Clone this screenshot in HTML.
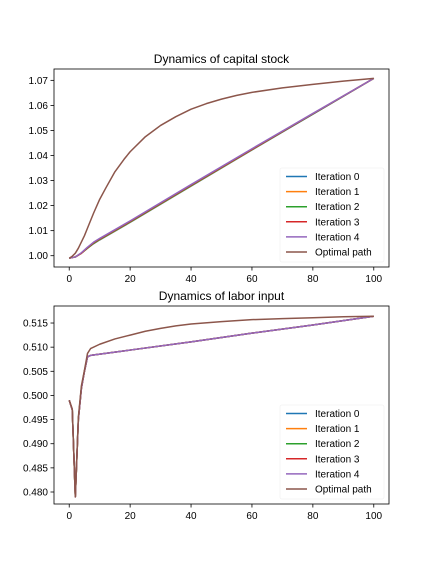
<!DOCTYPE html>
<html><head><meta charset="utf-8"><style>
html,body{margin:0;padding:0;background:#fff;}
svg{display:block;font-family:"Liberation Sans","DejaVu Sans",sans-serif;}
</style></head><body>
<svg id="fig" width="432" height="576" viewBox="0 0 432 576"></svg>
<script>
// ---- data ----
const seriesNames = ["Iteration 0","Iteration 1","Iteration 2","Iteration 3","Iteration 4","Optimal path"];
const colors = ["#1f77b4","#ff7f0e","#2ca02c","#d62728","#9467bd","#8c564b"];
const xTicks = [0,20,40,60,80,100];
const capTicks = [1.00,1.01,1.02,1.03,1.04,1.05,1.06,1.07];
const capTickLabels = ["1.00","1.01","1.02","1.03","1.04","1.05","1.06","1.07"];
const labTicks = [0.480,0.485,0.490,0.495,0.500,0.505,0.510,0.515];
const labTickLabels = ["0.480","0.485","0.490","0.495","0.500","0.505","0.510","0.515"];
const capIterX = [0,2,4,6,8,10,20,40,60,80,100];
const capIter0 = [0.999,0.9995,1.001,1.003,1.0048,1.0063,1.0133,1.0278,1.0422,1.0565,1.0708];
const capIter1 = [0.999,0.9995,1.001,1.003,1.0049,1.0064,1.0134,1.0279,1.0423,1.0566,1.0708];
const capIter2 = [0.999,0.9995,1.001,1.003,1.0050,1.0065,1.0135,1.0280,1.0424,1.0566,1.0708];
const capIter3 = [0.999,0.9995,1.001,1.0032,1.0052,1.0067,1.0137,1.0282,1.0425,1.0567,1.0708];
const capIter4 = [0.999,0.9995,1.0012,1.0034,1.0054,1.0069,1.0139,1.0284,1.0427,1.0568,1.0708];
const capOptX = [0,1,2,3,4,5,6,8,10,12,15,18,20,25,30,35,40,45,50,55,60,70,80,90,100];
const capOpt = [0.999,0.9998,1.001,1.003,1.0055,1.008,1.011,1.017,1.0225,1.027,1.0335,1.0385,1.0415,1.0475,1.052,1.0555,1.0585,1.0607,1.0625,1.064,1.0652,1.067,1.0684,1.0697,1.0708];
const labIterX = [0,1,2,3,4,5,6,7,20,40,60,80,100];
const labIter = [0.499,0.497,0.479,0.495,0.5015,0.505,0.508,0.5083,0.5094,0.5111,0.5129,0.5146,0.5164];
const labOptX = [0,1,2,3,4,5,6,7,10,15,20,25,30,35,40,50,60,70,80,90,100];
const labOpt = [0.499,0.4972,0.479,0.4955,0.502,0.5052,0.5087,0.5097,0.5106,0.5117,0.5125,0.5133,0.5139,0.5144,0.5148,0.5153,0.5157,0.5159,0.5161,0.5163,0.5164];

const NS="http://www.w3.org/2000/svg";
const svg=document.getElementById('fig');
function mk(tag,attrs,parent){const e=document.createElementNS(NS,tag);for(const k in attrs)e.setAttribute(k,attrs[k]);(parent||svg).appendChild(e);return e;}

function panel(cfg){
  const L=54,R=389,T=cfg.top,B=cfg.bottom;
  const sx=v=>L+(v-(-5))/(110)*(R-L);
  const sy=v=>B-(v-cfg.ymin)/(cfg.ymax-cfg.ymin)*(B-T);
  const g=mk('g',{});
  
  
  const t=mk('text',{x:(L+R)/2,y:T-6,'text-anchor':'middle','font-size':12,fill:'#000'},g);
  t.textContent=cfg.title;
  
  
  cfg.series.forEach((s,i)=>{
    const d=s.x.map((x,j)=>(j?'L':'M')+sx(x).toFixed(2)+','+sy(s.y[j]).toFixed(2)).join('');
    const p=mk('path',{d:d,fill:'none',stroke:colors[i],'stroke-width':1.5,'stroke-linejoin':'round'},g);
    
    
  });
  const fr=mk('rect',{x:L,y:T,width:R-L,height:B-T,fill:'none',stroke:'#000','stroke-width':0.8},g);
  
  
  xTicks.forEach(v=>{
    const x=sx(v);
    mk('line',{x1:x,x2:x,y1:B,y2:B+3.5,stroke:'#000','stroke-width':0.8},g);
    const tx=mk('text',{x:x,y:B+15,'text-anchor':'middle','font-size':10,fill:'#000'},g);
    tx.textContent=v;
    
    
  });
  cfg.yticks.forEach((v,i)=>{
    const y=sy(v);
    mk('line',{x1:L-3.5,x2:L,y1:y,y2:y,stroke:'#000','stroke-width':0.8},g);
    const ty=mk('text',{x:L-6,y:y+3.5,'text-anchor':'end','font-size':10,fill:'#000'},g);
    ty.textContent=cfg.ylabels[i];
    
    
  });
  const lg=mk('g',{},g);
  
  
  mk('rect',{x:280,y:B-99,width:104,height:94,rx:2,fill:'#fff','fill-opacity':0.8,stroke:'#f2f2f2','stroke-width':0.8},lg);
  seriesNames.forEach((n,i)=>{
    const y=B-90.5+i*15.1;
    mk('line',{x1:286,x2:307,y1:y,y2:y,stroke:colors[i],'stroke-width':1.5},lg);
    const tt=mk('text',{x:315,y:y+3.5,'font-size':10,fill:'#000'},lg);
    tt.textContent=n;
    
    
  });
}
panel({name:'capital-stock-chart',title:'Dynamics of capital stock',top:69,bottom:267,
  ymin:1.00-(267-255.7)/2505,ymax:1.00+(255.7-69)/2505,
  yticks:capTicks,ylabels:capTickLabels,
  series:[{x:capIterX,y:capIter0},{x:capIterX,y:capIter1},{x:capIterX,y:capIter2},{x:capIterX,y:capIter3},{x:capIterX,y:capIter4},{x:capOptX,y:capOpt}]});
panel({name:'labor-input-chart',title:'Dynamics of labor input',top:306,bottom:504,
  ymin:0.480-(504-492)/4828,ymax:0.480+(492-306)/4828,
  yticks:labTicks,ylabels:labTickLabels,
  series:[{x:labIterX,y:labIter},{x:labIterX,y:labIter},{x:labIterX,y:labIter},{x:labIterX,y:labIter},{x:labIterX,y:labIter},{x:labOptX,y:labOpt}]});
</script>
</body></html>
